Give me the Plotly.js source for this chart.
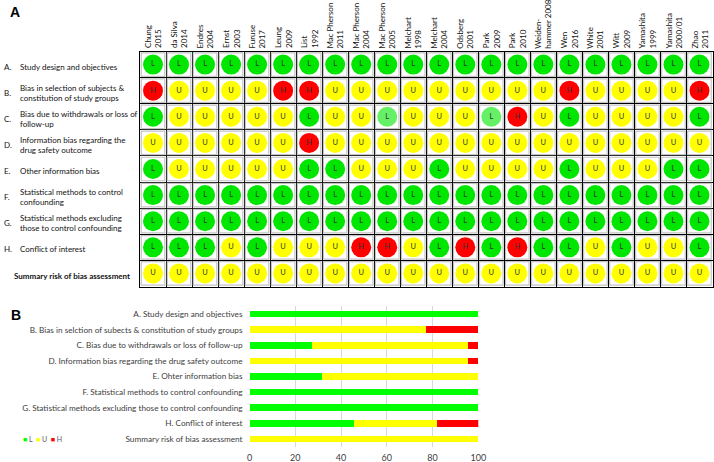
<!DOCTYPE html>
<html>
<head>
<meta charset="utf-8">
<script src="https://cdn.plot.ly/plotly-3.0.1.min.js"></script>
<style>html,body{margin:0;padding:0;background:#fff;}#chart{width:714px;height:462px;}</style>
</head>
<body>
<div id="chart"></div>
<script>
// ---------- DATA ----------
const studyLabels = ["Chung<br>2015","da Silva<br>2014","Endres<br>2004","Ernst<br>2003","Furuse<br>2017","Leung<br>2009","List<br>1992","Mac Pherson<br>2011","Mac Pherson<br>2004","Mac Pherson<br>2005","Melchart<br>1998","Melchart<br>2004","Odsberg<br>2001","Park<br>2009","Park<br>2010","Weiden-<br>hammer 2008","Wen<br>2016","White<br>2001","Witt<br>2009","Yamashita<br>1999","Yamashita<br>2000/01","Zhao<br>2011"];

const domainLetters = ["A.","B.","C.","D.","E.","F.","G.","H.",""];
const domainTexts = ["Study design and objectives","Bias in selection of subjects &<br>constitution of study groups","Bias due to withdrawals or loss of<br>follow-up","Information bias regarding the<br>drug safety outcome","Other information bias","Statistical methods to control<br>confounding","Statistical methods excluding<br>those to control confounding","Conflict of interest","<b>Summary risk of bias assessment</b>"];

// ratings per domain (one per study); "Lp" = L drawn in light green
const domA = ["L","L","L","L","L","L","L","L","L","L","L","L","L","L","L","L","L","L","L","L","L","L"];
const domB = ["H","U","U","U","U","H","H","U","U","U","U","U","U","U","U","U","H","U","U","U","U","H"];
const domC = ["L","U","U","U","U","U","L","U","U","Lp","U","U","U","Lp","H","U","L","U","U","U","U","L"];
const domD = ["U","U","U","U","U","U","H","U","U","U","U","U","U","U","U","U","U","U","U","U","U","U"];
const domE = ["L","U","U","U","U","U","L","L","U","U","U","L","U","U","U","U","L","U","U","U","L","L"];
const domF = ["L","L","L","L","L","L","L","L","L","L","L","L","L","L","L","L","L","L","L","L","L","L"];
const domG = ["L","L","L","L","L","L","L","L","L","L","L","L","L","L","L","L","L","L","L","L","L","L"];
const domH = ["L","L","L","U","L","U","U","U","H","H","U","L","H","L","H","L","L","U","L","U","U","L"];
const domSummary = ["U","U","U","U","U","U","U","U","U","U","U","U","U","U","U","U","U","U","U","U","U","U"];

// panel B
const barCategories = ["A. Study design and objectives","B. Bias in selction of subects & constitution of study groups","C. Bias due to withdrawals or loss of follow-up","D. Information bias regarding the drug safety outcome","E. Ohter information bias","F. Statistical methods to control confounding","G. Statistical methods excluding those to control confounding","H. Conflict of interest","Summary risk of bias assessment"];
const pctL = [100, 0, 27.3, 0, 31.8, 100, 100, 45.5, 0];
const pctU = [0, 77.3, 68.2, 95.5, 68.2, 0, 0, 36.4, 100];
const pctH = [0, 22.7, 4.5, 4.5, 0, 0, 0, 18.2, 0];
const xTicks = [0, 20, 40, 60, 80, 100];

// ---------- BUILD ----------
const domains = [domA, domB, domC, domD, domE, domF, domG, domH, domSummary];
const colorMap = {L: "#00e600", Lp: "#66f066", U: "#ffff00", H: "#ff0000"};
const textMap = {L: "L", Lp: "L", U: "U", H: "H"};

const cx = [], cy = [], cc = [], ct = [];
domains.forEach((row, r) => {
  row.forEach((v, s) => {
    cx.push(s + 1); cy.push(r + 1); cc.push(colorMap[v]); ct.push(textMap[v]);
  });
});

const FONT = "Lato, 'Open Sans', sans-serif";

const traces = [
  { type: "scatter", mode: "markers", x: cx, y: cy, xaxis: "x", yaxis: "y",
    marker: { symbol: "square", size: 23.5, color: "#ffffff", line: { color: "#c4c4c4", width: 1.2 } },
    hoverinfo: "skip", showlegend: false },
  { type: "scatter", mode: "markers+text", x: cx, y: cy, xaxis: "x", yaxis: "y",
    marker: { symbol: "circle", size: 20, color: cc, line: { width: 0 } },
    text: ct, textposition: "middle center",
    textfont: { family: FONT, size: 7.5, color: "#333333" },
    hoverinfo: "text", showlegend: false },
  { type: "bar", orientation: "h", name: "L", x: pctL, y: barCategories, xaxis: "x2", yaxis: "y2",
    marker: { color: "#00ff00" }, width: 0.43, showlegend: false },
  { type: "bar", orientation: "h", name: "U", x: pctU, y: barCategories, xaxis: "x2", yaxis: "y2",
    marker: { color: "#ffff00" }, width: 0.43, showlegend: false },
  { type: "bar", orientation: "h", name: "H", x: pctH, y: barCategories, xaxis: "x2", yaxis: "y2",
    marker: { color: "#ff0000" }, width: 0.43, showlegend: false }
];

const annotations = [];
// column headers
studyLabels.forEach((lab, i) => {
  annotations.push({ x: i + 1, xref: "x", y: 0.8908, yref: "paper", text: lab, textangle: -90,
    showarrow: false, xanchor: "center", yanchor: "bottom", align: "left",
    font: { family: FONT, size: 8, color: "#111" } });
});
// row labels
domainLetters.forEach((l, r) => {
  if (l) annotations.push({ x: 2 / 714, xref: "paper", y: r + 1.08, yref: "y", text: l, showarrow: false,
    xanchor: "left", yanchor: "middle", font: { family: FONT, size: 8, color: "#111" } });
});
domainTexts.forEach((t, r) => {
  const last = r === domainTexts.length - 1;
  annotations.push({ x: (last ? 12 : 18) / 714, xref: "paper", y: r + 1.08, yref: "y", text: t, showarrow: false,
    xanchor: "left", yanchor: "middle", align: "left", font: { family: FONT, size: 8, color: "#111" } });
});
// panel letters
annotations.push({ x: 8 / 714, xref: "paper", y: 1 - 12 / 462, yref: "paper", text: "<b>A</b>", showarrow: false,
  xanchor: "left", yanchor: "middle", font: { family: "Liberation Sans, Arial, sans-serif", size: 14, color: "#000" } });
annotations.push({ x: 9 / 714, xref: "paper", y: 1 - 315 / 462, yref: "paper", text: "<b>B</b>", showarrow: false,
  xanchor: "left", yanchor: "middle", font: { family: "Liberation Sans, Arial, sans-serif", size: 14, color: "#000" } });
// legend for panel B
annotations.push({ x: 21 / 714, xref: "paper", y: 1 - 439 / 462, yref: "paper",
  text: "<span style='color:#00ff00'>■</span> L  <span style='color:#ffff00'>■</span> U  <span style='color:#ff0000'>■</span> H",
  showarrow: false, xanchor: "left", yanchor: "middle", font: { family: FONT, size: 7, color: "#595959" } });

const layout = {
  width: 714, height: 462, margin: { l: 0, r: 0, t: 0, b: 0 },
  paper_bgcolor: "#fff", plot_bgcolor: "#fff",
  barmode: "stack", showlegend: false,
  font: { family: FONT },
  xaxis: { domain: [140 / 714, 712.5 / 714], range: [0.5, 22.5], tick0: 0.5, dtick: 1,
    showgrid: true, gridcolor: "#000", gridwidth: 1, zeroline: false, showticklabels: false, ticks: "",
    showline: true, mirror: true, linecolor: "#000", linewidth: 1, fixedrange: true },
  yaxis: { domain: [1 - 286.5 / 462, 1 - 51.5 / 462], range: [9.5, 0.5], tick0: 0.5, dtick: 1,
    showgrid: true, gridcolor: "#000", gridwidth: 1, zeroline: false, showticklabels: false, ticks: "",
    showline: true, mirror: true, linecolor: "#000", linewidth: 1, fixedrange: true },
  xaxis2: { domain: [249.5 / 714, 478.3 / 714], anchor: "y2", range: [0, 100], tickvals: xTicks,
    showgrid: true, gridcolor: "#d9d9d9", gridwidth: 1, zeroline: false, showline: false, ticks: "",
    tickfont: { family: FONT, size: 9, color: "#404040" }, ticklabelstandoff: 4 },
  yaxis2: { domain: [1 - 446.8 / 462, 1 - 306.2 / 462], anchor: "x2", type: "category",
    autorange: "reversed", showgrid: false, zeroline: false, showline: false, ticks: "",
    tickfont: { family: FONT, size: 8.2, color: "#404040" }, ticklabelstandoff: 6 },
  annotations: annotations
};

Plotly.newPlot("chart", traces, layout, { displayModeBar: false, staticPlot: true });
</script>
</body>
</html>
